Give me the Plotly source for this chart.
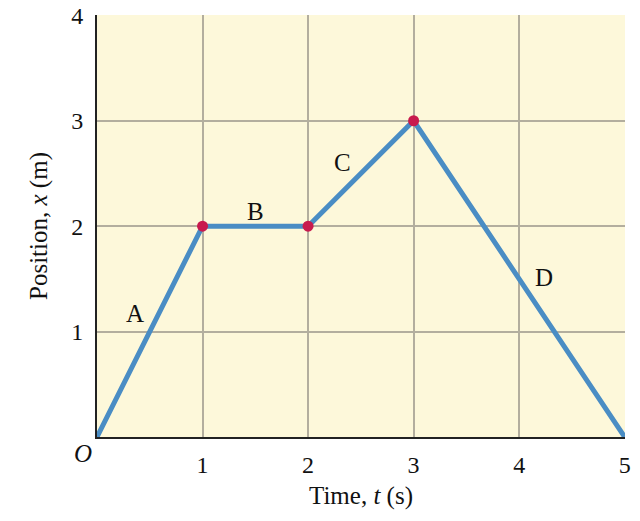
import plotly.graph_objects as go

times = [0, 1, 2, 3, 5]
positions = [0, 2, 2, 3, 0]
dot_times = [1, 2, 3]
dot_positions = [2, 2, 3]
seg_labels = ["A", "B", "C", "D"]
seg_label_t = [0.36, 1.5, 2.33, 4.24]
seg_label_x = [1.17, 2.14, 2.6, 1.51]
x_ticks = [1, 2, 3, 4, 5]
y_ticks = [1, 2, 3, 4]

FONT = "Liberation Serif"

fig = go.Figure()
fig.add_trace(go.Scatter(x=times, y=positions, mode="lines",
                         line=dict(color="#4A8DC4", width=5), cliponaxis=False,
                         hoverinfo="skip", showlegend=False))
fig.add_trace(go.Scatter(x=dot_times, y=dot_positions, mode="markers",
                         marker=dict(color="#C81A4E", size=11), cliponaxis=False,
                         showlegend=False))

for lab, t, x in zip(seg_labels, seg_label_t, seg_label_x):
    fig.add_annotation(x=t, y=x, text=lab, showarrow=False,
                       font=dict(family=FONT, size=25, color="#111"))

fig.add_annotation(x=0, y=0, text="<i>O</i>", showarrow=False, xanchor="right", yanchor="top",
                   xshift=-3, yshift=-1, font=dict(family=FONT, size=25, color="#111"))

fig.update_layout(
    width=640, height=521,
    margin=dict(l=97, r=15, t=15, b=84),
    paper_bgcolor="white", plot_bgcolor="#FDF8DA",
    font=dict(family=FONT, size=24, color="#111"),
    xaxis=dict(range=[0, 5.003], tickvals=x_ticks, showgrid=True, gridcolor="#B3AE9E", gridwidth=1.8,
               showline=True, linecolor="#222", linewidth=2, zeroline=False, ticks="",
               ticklabelstandoff=5, automargin=False, tickfont=dict(size=24),
               ticklabeloverflow="allow",
               title=dict(text="Time, <i>t</i> (s)", font=dict(family=FONT, size=25), standoff=10)),
    yaxis=dict(range=[0, 4.003], tickvals=y_ticks, showgrid=True, gridcolor="#B3AE9E", gridwidth=1.8,
               showline=True, linecolor="#222", linewidth=2, zeroline=False, ticks="",
               ticklabelstandoff=7, automargin=False, tickfont=dict(size=24),
               ticklabeloverflow="allow",
               title=dict(text="Position, <i>x</i> (m)", font=dict(family=FONT, size=25), standoff=16)),
)

fig.write_html("out.html", config={"displayModeBar": False},
               post_script="document.body.style.margin='0';document.body.style.overflow='hidden';")
